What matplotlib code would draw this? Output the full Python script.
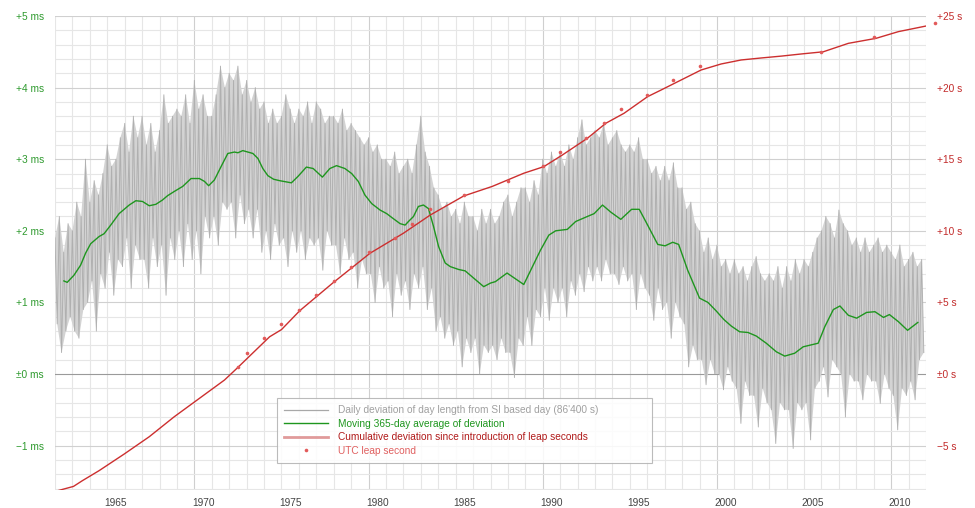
import numpy as np
import matplotlib
matplotlib.use("Agg")
import matplotlib.pyplot as plt
from matplotlib.lines import Line2D

plt.rcParams['font.family'] = ['Liberation Sans', 'DejaVu Sans']

# ---------------- data ----------------
# daily LOD deviation envelope, quarterly samples from 1962.0 (ms): high and low excursions
dev_hi = [
    1.9, 2.2, 1.7, 2.1,   2.0, 2.4, 2.2, 3.0,   2.4, 2.7, 2.5, 2.8,   3.2, 2.9, 3.0, 3.3,
    3.5, 3.1, 3.6, 3.3,   3.6, 3.2, 3.5, 3.1,   3.4, 3.9, 3.5, 3.6,   3.7, 3.6, 3.9, 3.5,
    4.1, 3.7, 3.9, 3.6,   3.6, 3.9, 4.3, 4.0,   4.2, 4.1, 4.3, 3.9,   4.1, 3.8, 4.0, 3.7,
    3.8, 3.5, 3.7, 3.5,   3.6, 3.9, 3.7, 3.5,   3.7, 3.6, 3.8, 3.5,   3.8, 3.7, 3.5, 3.6,
    3.6, 3.5, 3.7, 3.4,   3.5, 3.4, 3.3, 3.2,   3.3, 3.1, 3.2, 3.0,   3.0, 2.9, 3.1, 2.8,
    2.9, 3.0, 2.8, 3.2,   3.6, 3.1, 2.9, 2.6,   2.5, 2.3, 2.4, 2.2,   2.3, 2.1, 2.4, 2.2,
    2.2, 2.0, 2.3, 2.1,   2.3, 2.1, 2.2, 2.4,   2.5, 2.2, 2.4, 2.6,   2.6, 2.4, 2.7, 2.5,
    3.0, 2.8, 3.1, 2.9,   3.1, 2.9, 3.2, 3.0,   3.3, 3.55, 3.2, 3.3, 3.4, 3.3, 3.5, 3.2,
    3.3, 3.4, 3.2, 3.1,   3.2, 3.1, 3.3, 3.0,   3.0, 2.8, 2.9, 2.7,   2.9, 2.7, 2.95, 2.6,
    2.6, 2.3, 2.4, 2.1,   2.0, 1.7, 1.9, 1.6,   1.8, 1.5, 1.6, 1.4,   1.6, 1.4, 1.5, 1.3,
    1.5, 1.64, 1.4, 1.3,  1.4, 1.3, 1.5, 1.2,   1.5, 1.3, 1.6, 1.4,   1.6, 1.5, 1.7, 1.9,
    2.0, 2.2, 2.1, 1.9,   2.29, 2.1, 2.0, 1.8,  1.9, 1.7, 1.9, 1.7,   1.8, 1.9, 1.7, 1.8,
    1.7, 1.6, 1.8, 1.5,   1.6, 1.7, 1.5, 1.6,
]
dev_lo = [
    0.7, 0.3, 0.6, 0.8,   0.6, 0.5, 0.9, 1.0,   1.3, 0.6, 1.4, 1.2,   1.7, 1.1, 1.6, 1.5,
    1.9, 1.2, 1.8, 1.6,   1.6, 1.2, 1.9, 1.5,   1.8, 1.1, 1.9, 1.6,   2.0, 1.5, 2.1, 1.6,
    2.0, 1.4, 2.2, 1.9,   2.2, 1.8, 2.4, 2.3,   2.4, 1.9, 2.5, 2.1,   2.3, 1.9, 2.3, 1.7,
    2.0, 1.6, 2.1, 1.8,   1.9, 1.5, 2.0, 1.7,   2.0, 1.6, 1.9, 1.8,   1.9, 1.45, 2.0, 1.8,
    1.8, 1.4, 1.9, 1.6,   1.7, 1.2, 1.6, 1.4,   1.4, 1.0, 1.5, 1.2,   1.3, 0.8, 1.4, 1.1,
    1.3, 0.9, 1.4, 1.2,   1.5, 0.9, 1.2, 0.6,   0.8, 0.5, 0.7, 0.4,   0.6, 0.1, 0.5, 0.3,
    0.5, 0.0, 0.4, 0.3,   0.4, 0.2, 0.5, 0.3,   0.3, -0.05, 0.5, 0.4, 0.8, 0.4, 0.9, 0.8,
    1.2, 0.75, 1.2, 1.0,  1.2, 0.8, 1.3, 1.1,   1.4, 1.15, 1.5, 1.3,  1.5, 1.3, 1.6, 1.4,
    1.4, 1.25, 1.5, 1.3,  1.4, 0.9, 1.4, 1.2,   1.1, 0.75, 1.2, 0.9,  1.0, 0.5, 1.0, 0.8,
    0.7, 0.1, 0.4, 0.2,   0.2, -0.15, 0.2, 0.0, 0.0, -0.22, 0.1, -0.1, -0.2, -0.69, -0.1, -0.3,
    -0.3, -0.74, -0.2, -0.4, -0.5, -0.97, -0.4, -0.5, -0.5, -1.04, -0.4, -0.5, -0.4, -0.92, -0.2, -0.1,
    0.1, -0.32, 0.2, 0.1, 0.0, -0.6, 0.0, -0.1,  -0.1, -0.36, 0.0, -0.1, -0.1, -0.41, 0.0, -0.2,
    -0.3, -0.78, -0.2, -0.3, -0.1, -0.36, 0.2, 0.3,
]
dev_start = 1962.0

# 365-day moving average (ms)
ma_years = [1962.51, 1962.70, 1963.09, 1963.47, 1963.76, 1964.05, 1964.53, 1964.82, 1965.20, 1965.68,
            1966.26, 1966.64, 1967.02, 1967.41, 1967.79, 1968.17, 1968.46, 1968.85, 1969.33, 1969.81,
            1970.29, 1970.58, 1970.82, 1971.15, 1971.54, 1971.92, 1972.30, 1972.50, 1972.78, 1973.36,
            1973.65, 1973.93, 1974.22, 1974.55, 1974.90, 1975.57, 1975.95, 1976.43, 1976.82, 1977.35,
            1977.78, 1978.16, 1978.64, 1979.03, 1979.41, 1979.79, 1980.18, 1980.66, 1981.04, 1981.42,
            1981.81, 1982.10, 1982.29, 1982.58, 1982.86, 1983.15, 1983.44, 1983.73, 1984.02, 1984.40,
            1984.69, 1985.17, 1985.55, 1986.03, 1986.61, 1987.00, 1987.28, 1987.95, 1988.91, 1989.87,
            1990.35, 1990.74, 1991.41, 1991.89, 1992.56, 1992.95, 1993.43, 1993.91, 1994.48, 1995.10,
            1995.54, 1996.02, 1996.60, 1997.02, 1997.46, 1997.80, 1998.32, 1999.00, 1999.48, 1999.96,
            2000.40, 2000.82, 2001.30, 2001.78, 2002.26, 2002.83, 2003.41, 2003.89, 2004.46, 2004.95,
            2005.81, 2006.19, 2006.68, 2007.06, 2007.54, 2008.02, 2008.59, 2009.07, 2009.56, 2009.90,
            2010.42, 2010.94, 2011.53]
ma_ms = [1.30, 1.28, 1.38, 1.52, 1.69, 1.82, 1.92, 1.96, 2.08, 2.24,
         2.36, 2.42, 2.41, 2.35, 2.37, 2.43, 2.49, 2.55, 2.62, 2.73,
         2.73, 2.69, 2.63, 2.71, 2.90, 3.08, 3.10, 3.09, 3.12, 3.08,
         3.01, 2.87, 2.77, 2.72, 2.70, 2.67, 2.76, 2.89, 2.87, 2.75,
         2.87, 2.91, 2.87, 2.80, 2.69, 2.50, 2.38, 2.29, 2.24, 2.17,
         2.10, 2.08, 2.13, 2.20, 2.34, 2.36, 2.31, 2.06, 1.78, 1.55,
         1.50, 1.46, 1.44, 1.34, 1.22, 1.27, 1.29, 1.41, 1.25, 1.73,
         1.94, 2.00, 2.02, 2.13, 2.20, 2.24, 2.36, 2.26, 2.16, 2.30,
         2.30, 2.08, 1.81, 1.79, 1.84, 1.81, 1.45, 1.06, 1.00, 0.88,
         0.76, 0.67, 0.59, 0.58, 0.53, 0.43, 0.31, 0.25, 0.29, 0.38,
         0.43, 0.66, 0.90, 0.95, 0.82, 0.78, 0.86, 0.87, 0.79, 0.83,
         0.73, 0.61, 0.72]

# cumulative deviation (s)
cum_years = [1962.0, 1963.06, 1963.57, 1964.53, 1965.97, 1967.41, 1968.85, 1970.29, 1971.73, 1972.49,
             1973.17, 1974.32, 1975.0, 1976.05, 1977.97, 1980.08, 1982.0, 1983.54, 1985.46, 1987.1,
             1988.91, 1990.06, 1991.12, 1992.56, 1993.62, 1994.67, 1996.02, 1996.79, 1997.94, 1999.09,
             2000.24, 2001.39, 2002.55, 2003.70, 2004.85, 2006.10, 2007.54, 2009.13, 2010.42, 2012.0]
cum_s = [-8.2, -7.85, -7.45, -6.75, -5.59, -4.38, -2.98, -1.70, -0.42, 0.45,
         1.25, 2.60, 3.1, 4.42, 6.38, 8.43, 9.83, 11.1, 12.43, 13.1,
         14.02, 14.48, 15.29, 16.46, 17.51, 18.21, 19.37, 19.83, 20.53, 21.23,
         21.65, 21.93, 22.07, 22.2, 22.35, 22.5, 23.09, 23.44, 23.91, 24.3]

# UTC leap seconds
leap_years = [1972.5, 1973.0, 1974.0, 1975.0, 1976.0, 1977.0, 1978.0, 1979.0, 1980.0, 1981.5,
              1982.5, 1983.5, 1985.5, 1988.0, 1990.0, 1991.0, 1992.5, 1993.5, 1994.5, 1996.0,
              1997.5, 1999.0, 2006.0, 2009.0, 2012.5]
leap_s = [0.5, 1.5, 2.5, 3.5, 4.5, 5.5, 6.5, 7.5, 8.5, 9.5,
          10.5, 11.5, 12.5, 13.5, 14.5, 15.5, 16.5, 17.5, 18.5, 19.5,
          20.5, 21.5, 22.5, 23.5, 24.5]

year_labels = [1965, 1970, 1975, 1980, 1985, 1990, 1995, 2000, 2005, 2010]
left_ticks = [-1, 0, 1, 2, 3, 4, 5]
left_labels = ['\u22121 ms', '\u00b10 ms', '+1 ms', '+2 ms', '+3 ms', '+4 ms', '+5 ms']
right_ticks = [-5, 0, 5, 10, 15, 20, 25]
right_labels = ['\u22125 s', '\u00b10 s', '+5 s', '+10 s', '+15 s', '+20 s', '+25 s']

# ---------------- figure ----------------
W, H = 975, 508
fig = plt.figure(figsize=(W / 100, H / 100), dpi=100)
ax = fig.add_axes([55 / W, 1 - 490 / H, 871 / W, 474 / H])
ax.set_xlim(1962, 2012)
ax.set_ylim(-1.62, 5.0)
ax2 = ax.twinx()
ax2.set_ylim(-8.1, 25.0)

for a in (ax, ax2):
    for s in a.spines.values():
        s.set_visible(False)

# grid
for yr in range(1962, 2013):
    ax.axvline(yr, color='#cfcfcf' if yr % 10 == 0 else '#e6e6e6', lw=0.8, zorder=0)
for k in range(-8, 26):
    v = k * 0.2
    if k == 0:
        c = '#9a9a9a'
    elif k % 5 == 0:
        c = '#d0d0d0'
    else:
        c = '#e6e6e6'
    ax.axhline(v, color=c, lw=0.8, zorder=0.5 if k == 0 else 0)

# daily deviation: envelope polygon + zig-zag between high and low excursions
n = len(dev_hi)
t = dev_start + 0.25 * np.arange(n)
t_lo = t + 0.125
ax.fill(np.concatenate([t, t_lo[::-1]]), np.concatenate([dev_hi, dev_lo[::-1]]),
        color='#d3d3d3', lw=0, zorder=1.5)
xs = np.empty(2 * n)
ys = np.empty(2 * n)
xs[0::2] = t
xs[1::2] = t_lo
ys[0::2] = dev_hi
ys[1::2] = dev_lo
ax.plot(xs, ys, color='#aaaaaa', lw=0.7, alpha=0.85, zorder=2)

ax.plot(ma_years, ma_ms, color='#1e961e', lw=1.0, zorder=3)

ax2.plot(cum_years, cum_s, color='#cc2f2f', lw=1.0, zorder=3)
ax2.plot(leap_years, leap_s, 'o', ms=2.6, color='#e25a5a', mec='none', zorder=4, clip_on=False)

# ticks
ax.set_xticks([y + 0.5 for y in year_labels])
ax.set_xticklabels([str(y) for y in year_labels])
ax.set_yticks(left_ticks)
ax.set_yticklabels(left_labels)
ax2.set_yticks(right_ticks)
ax2.set_yticklabels(right_labels)
ax.tick_params(axis='x', length=0, pad=6, labelsize=7.3, labelcolor='#444444')
ax.tick_params(axis='y', length=0, pad=8, labelsize=7.3, labelcolor='#2e9a2e')
ax2.tick_params(axis='y', length=0, pad=8, labelsize=7.3, labelcolor='#c22a2a')

# legend
handles = [
    Line2D([], [], color='#a8a8a8', lw=0.9),
    Line2D([], [], color='#1e961e', lw=1.0),
    Line2D([], [], color='#e09a9a', lw=2.0),
    Line2D([], [], color='#e25a5a', marker='o', ms=2.6, mec='none', lw=0),
]
labels = ["Daily deviation of day length from SI based day (86'400 s)",
          "Moving 365-day average of deviation",
          "Cumulative deviation since introduction of leap seconds",
          "UTC leap second"]
leg = ax2.legend(handles, labels, loc='upper left',
                 bbox_to_anchor=(0.255, 0.053, 0.43, 0.141), mode='expand',
                 fontsize=7.3, frameon=True, fancybox=False, framealpha=0.85,
                 edgecolor='#b0b0b0', handlelength=4.3, handletextpad=1.0,
                 labelspacing=0.35, borderpad=0.7, borderaxespad=0)
leg.get_frame().set_linewidth(0.8)
for txt, c in zip(leg.get_texts(), ['#a0a0a0', '#1e961e', '#b01a1a', '#e06060']):
    txt.set_color(c)

fig.savefig('out.png', dpi=100, facecolor='white')
